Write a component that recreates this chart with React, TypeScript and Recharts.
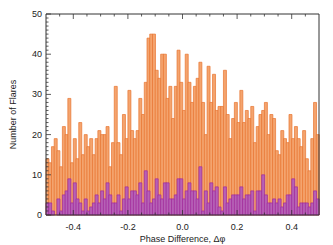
import React from 'react';
import { BarChart, Bar, XAxis, YAxis } from 'recharts';

// counts per 0.01-wide bin of phase difference, from -0.5 to 0.5
const allFlares = [
  14, 13, 17, 19, 16, 12, 22, 20, 29, 13,
  19, 14, 23, 15, 20, 17, 19, 15, 19, 21,
  20, 20, 22, 12, 18, 32, 18, 15, 25, 19,
  31, 21, 19, 21, 29, 25, 33, 44, 45, 45,
  36, 34, 40, 40, 29, 32, 24, 32, 41, 33,
  26, 40, 33, 28, 32, 34, 38, 28, 20, 37,
  28, 35, 26, 27, 27, 36, 25, 19, 24, 28,
  23, 31, 23, 26, 24, 27, 18, 22, 25, 26,
  28, 20, 25, 24, 16, 15, 21, 19, 18, 25,
  19, 22, 19, 17, 21, 14, 11, 19, 28, 20
];

const subsetFlares = [
  3, 3, 1, 0, 4, 1, 5, 6, 9, 3,
  8, 4, 3, 1, 4, 1, 2, 3, 5, 3,
  6, 4, 8, 5, 3, 3, 5, 1, 4, 7,
  4, 6, 6, 5, 8, 3, 11, 6, 3, 4,
  9, 5, 4, 8, 8, 4, 4, 5, 9, 9,
  4, 6, 8, 6, 6, 4, 12, 1, 6, 3,
  8, 6, 7, 2, 1, 7, 3, 4, 5, 5,
  5, 7, 4, 5, 5, 6, 1, 6, 6, 10,
  5, 3, 3, 4, 3, 4, 2, 3, 5, 5,
  9, 7, 2, 3, 3, 3, 2, 3, 6, 4
];

const binStart = -0.5;
const binWidth = 0.01;

const xMajor = [-0.4, -0.2, 0, 0.2, 0.4];
const yMajor = [0, 10, 20, 30, 40, 50];

// minor ticks: every 0.05 on x, every 1 on y
const xTicks = Array.from({ length: 19 }, (_, i) => Math.round((-0.45 + i * 0.05) * 100) / 100);
const yTicks = Array.from({ length: 51 }, (_, i) => i);

const data = allFlares.map((n, i) => ({
  bin: i,
  phase: binStart + (i + 0.5) * binWidth,
  all: n,
  subset: subsetFlares[i]
}));

const AXIS = '#333';
const TEXT = '#222';
const FONT = 9;

const isMajorX = (v: number) => xMajor.some(m => Math.abs(m - v) < 1e-6);
const isMajorY = (v: number) => yMajor.includes(v);

const BottomTick = (props: any) => {
  const { x, y, payload } = props;
  const major = isMajorX(payload.value);
  return (
    <g>
      <line x1={x} x2={x} y1={y} y2={y - (major ? 5 : 2.5)} stroke={AXIS} strokeWidth={0.8} />
      {major && (
        <text x={x} y={y + 15} textAnchor="middle" fontSize={FONT} fill={TEXT}>
          {payload.value.toFixed(1)}
        </text>
      )}
    </g>
  );
};

const TopTick = (props: any) => {
  const { x, y, payload } = props;
  const major = isMajorX(payload.value);
  return <line x1={x} x2={x} y1={y} y2={y + (major ? 5 : 2.5)} stroke={AXIS} strokeWidth={0.8} />;
};

const LeftTick = (props: any) => {
  const { x, y, payload } = props;
  const major = isMajorY(payload.value);
  return (
    <g>
      <line x1={x} x2={x + (major ? 5 : 2.5)} y1={y} y2={y} stroke={AXIS} strokeWidth={0.8} />
      {major && (
        <text x={x - 4} y={y + 3} textAnchor="end" fontSize={FONT} fill={TEXT}>
          {payload.value}
        </text>
      )}
    </g>
  );
};

const RightTick = (props: any) => {
  const { x, y, payload } = props;
  const major = isMajorY(payload.value);
  return <line x1={x} x2={x - (major ? 5 : 2.5)} y1={y} y2={y} stroke={AXIS} strokeWidth={0.8} />;
};

const xTitle = (props: any) => {
  const vb = props.viewBox;
  return (
    <text x={vb.x + vb.width / 2} y={vb.y + 27} textAnchor="middle" fontSize={FONT} fill={TEXT}>
      Phase Difference, Δφ
    </text>
  );
};

const yTitle = (props: any) => {
  const vb = props.viewBox;
  const cx = vb.x + 8;
  const cy = vb.y + vb.height / 2;
  return (
    <text x={cx} y={cy} textAnchor="middle" fontSize={FONT} fill={TEXT} transform={`rotate(-90 ${cx} ${cy})`}>
      Number of Flares
    </text>
  );
};

export default function App() {
  return (
    <div style={{ width: 325, height: 237, fontFamily: '"Liberation Sans", Arial, sans-serif' }}>
      <BarChart
        width={325}
        height={237}
        data={data}
        margin={{ top: 5, right: 13, left: 0, bottom: 0 }}
        barCategoryGap={0}
        barGap={0}
      >
        <XAxis
          xAxisId="phase"
          dataKey="phase"
          type="number"
          domain={[-0.5, 0.5]}
          allowDataOverflow
          ticks={xTicks}
          interval={0}
          tickSize={0}
          tickMargin={0}
          tickLine={false}
          tick={BottomTick}
          axisLine={{ stroke: AXIS }}
          height={30}
          label={xTitle}
        />
        <XAxis xAxisId="all" dataKey="bin" hide height={0} />
        <XAxis xAxisId="subset" dataKey="bin" hide height={0} />
        <XAxis
          xAxisId="top"
          orientation="top"
          dataKey="phase"
          type="number"
          domain={[-0.5, 0.5]}
          allowDataOverflow
          ticks={xTicks}
          interval={0}
          tickSize={0}
          tickMargin={0}
          tickLine={false}
          tick={TopTick}
          axisLine={{ stroke: AXIS }}
          height={1}
        />
        <YAxis
          yAxisId="count"
          type="number"
          domain={[0, 50]}
          ticks={yTicks}
          interval={0}
          tickSize={0}
          tickMargin={0}
          tickLine={false}
          tick={LeftTick}
          axisLine={{ stroke: AXIS }}
          width={38}
          label={yTitle}
        />
        <YAxis
          yAxisId="right"
          orientation="right"
          type="number"
          domain={[0, 50]}
          ticks={yTicks}
          interval={0}
          tickSize={0}
          tickMargin={0}
          tickLine={false}
          tick={RightTick}
          axisLine={{ stroke: AXIS }}
          width={1}
        />
        <Bar
          xAxisId="all"
          yAxisId="count"
          dataKey="all"
          fill="#f4a46e"
          stroke="#e8742f"
          strokeWidth={0.7}
          isAnimationActive={false}
        />
        <Bar
          xAxisId="subset"
          yAxisId="count"
          dataKey="subset"
          fill="#b661b6"
          stroke="#a02a9e"
          strokeWidth={0.7}
          isAnimationActive={false}
        />
      </BarChart>
    </div>
  );
}
